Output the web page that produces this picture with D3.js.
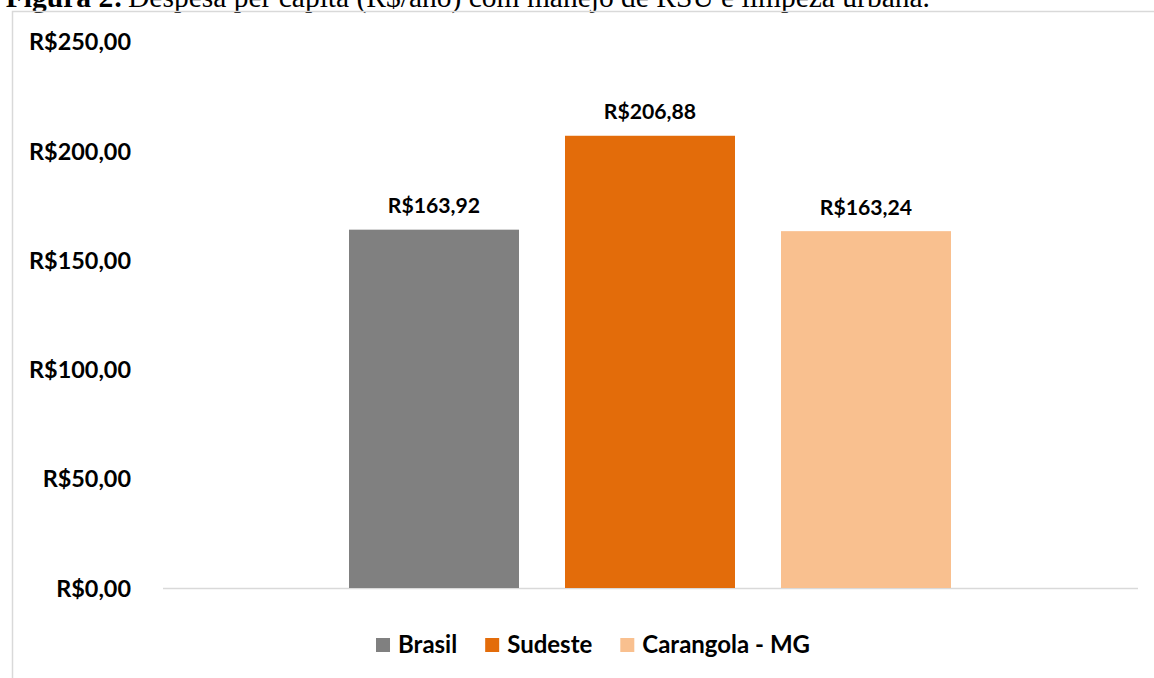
<!DOCTYPE html>
<html>
<head>
<meta charset="utf-8">
<script src="https://cdn.jsdelivr.net/npm/d3@7"></script>
<style>
  body { margin: 0; background: #fff; }
  svg { display: block; }
</style>
</head>
<body>
<div id="plot"></div>
<script>
// dados
var series = ["Brasil", "Sudeste", "Carangola - MG"];
var values = [163.92, 206.88, 163.24];
var colors = ["#808080", "#E36C0A", "#F9C08F"];
var tickValues = [0, 50, 100, 150, 200, 250];

var captionBold = "Figura 2:";
var captionText = "Despesa per capita (R$/ano) com manejo de RSU e limpeza urbana.";

var width = 1154, height = 678;
var labelFont = "Lato, 'Open Sans', sans-serif";

function moeda(v) {
  return "R$" + v.toFixed(2).replace(".", ",");
}

var svg = d3.select("#plot")
  .append("svg")
  .attr("width", width)
  .attr("height", height);

// caption cortada no topo (como na imagem original)
svg.append("text")
  .attr("x", 123)
  .attr("y", 7)
  .attr("text-anchor", "end")
  .style("font-family", "'Liberation Serif', 'Times New Roman', serif")
  .style("font-weight", "bold")
  .style("font-size", "29.5px")
  .text(captionBold);

svg.append("text")
  .attr("x", 128)
  .attr("y", 7)
  .style("font-family", "'Liberation Serif', 'Times New Roman', serif")
  .style("font-size", "29.5px")
  .text(captionText);

// borda da area do grafico
svg.append("rect")
  .attr("x", 12.5)
  .attr("y", 11.5)
  .attr("width", 1300)
  .attr("height", 800)
  .attr("fill", "none")
  .attr("stroke", "#d9d9d9")
  .attr("stroke-width", 1.5);

var plotLeft = 163, plotRight = 1138;

const y = d3.scaleLinear()
  .domain([0, 250])
  .range([588, 41.5]);

const x = d3.scaleBand()
  .domain(series)
  .range([349, 951])
  .paddingInner(0.213)
  .paddingOuter(0);

// eixo y
var yAxis = svg.append("g")
  .attr("transform", "translate(131,0)")
  .call(d3.axisLeft(y).tickValues(tickValues).tickSize(0).tickPadding(0).tickFormat(moeda));
yAxis.select(".domain").remove();
yAxis.selectAll("text")
  .attr("dy", "0.35em")
  .style("font-family", labelFont)
  .style("font-weight", "bold")
  .style("font-size", "23.4px")
  .attr("fill", "#000");

// linha de base
svg.append("line")
  .attr("x1", plotLeft)
  .attr("x2", plotRight)
  .attr("y1", y(0) + 0.5)
  .attr("y2", y(0) + 0.5)
  .attr("stroke", "#d9d9d9")
  .attr("stroke-width", 1.5);

// barras
svg.append("g")
  .selectAll("rect")
  .data(series)
  .enter().append("rect")
  .attr("x", function (d) { return x(d); })
  .attr("y", function (d, i) { return y(values[i]); })
  .attr("width", x.bandwidth())
  .attr("height", function (d, i) { return y(0) - y(values[i]); })
  .attr("fill", function (d, i) { return colors[i]; });

// rotulos de dados
svg.append("g")
  .selectAll("text")
  .data(series)
  .enter().append("text")
  .attr("x", function (d) { return x(d) + x.bandwidth() / 2; })
  .attr("y", function (d, i) { return y(values[i]) - 24; })
  .attr("dy", "0.35em")
  .attr("text-anchor", "middle")
  .style("font-family", labelFont)
  .style("font-weight", "bold")
  .style("font-size", "21.2px")
  .text(function (d, i) { return moeda(values[i]); });

// legenda
var legend = svg.append("g");
var legendY = 645;
var items = legend.selectAll("g")
  .data(series)
  .enter().append("g");

items.append("rect")
  .attr("width", 14)
  .attr("height", 14)
  .attr("y", legendY - 7)
  .attr("fill", function (d, i) { return colors[i]; });

items.append("text")
  .attr("x", 22)
  .attr("y", legendY)
  .attr("dy", "0.35em")
  .style("font-family", labelFont)
  .style("font-weight", "bold")
  .style("font-size", "24px")
  .text(function (d) { return d; });

var pos = 0;
var offsets = [];
items.each(function () {
  var w = 22 + this.querySelector("text").getComputedTextLength();
  offsets.push(pos);
  pos += w + 28;
});
var total = pos - 28;
var startX = 593 - total / 2;
items.attr("transform", function (d, i) { return "translate(" + (startX + offsets[i]) + ",0)"; });
</script>
</body>
</html>
